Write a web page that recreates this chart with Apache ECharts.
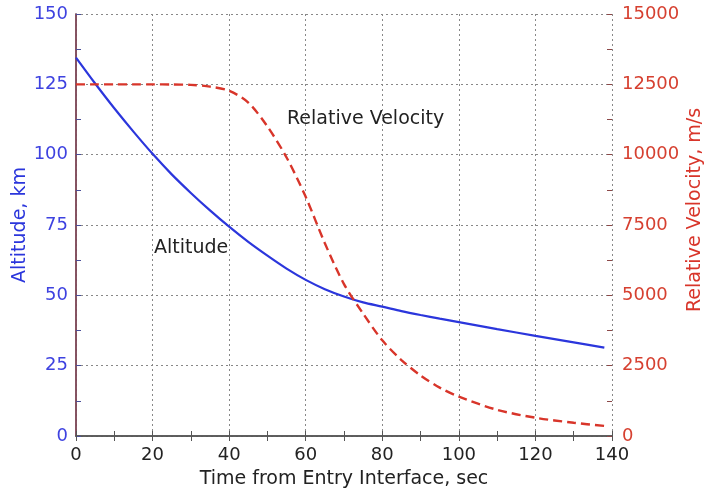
<!DOCTYPE html>
<html>
<head>
<meta charset="utf-8">
<script src="https://cdn.jsdelivr.net/npm/echarts@6/dist/echarts.min.js"></script>
<style>
    html, body { margin: 0; padding: 0; background: #fff; }
    #main { width: 706px; height: 492px; }
</style>
</head>
<body>
<div id="main"></div>
<script>
// time, sec
var time = [0, 5, 10, 15, 20, 25, 30, 35, 40, 45, 50, 55, 60, 65, 70, 75, 80, 85, 90, 95, 100, 110, 120, 130, 138];
// altitude, km
var altitude = [134.5, 125.3, 116.5, 108.2, 100.3, 93.0, 86.4, 80.2, 74.4, 69.0, 64.1, 59.5, 55.5, 52.2, 49.6, 47.5, 46.0, 44.4, 43.0, 41.7, 40.5, 38.0, 35.6, 33.3, 31.4];
// relative velocity, m/s
var velocity = [12500, 12500, 12500, 12500, 12500, 12495, 12480, 12420, 12270, 11850, 11000, 9900, 8500, 6850, 5400, 4350, 3400, 2700, 2150, 1720, 1400, 930, 650, 470, 360];

var xTicks = [0, 20, 40, 60, 80, 100, 120, 140];
var altTicks = [0, 25, 50, 75, 100, 125, 150];
var velTicks = [0, 2500, 5000, 7500, 10000, 12500, 15000];

var font = '"DejaVu Sans", Verdana, sans-serif';
var blue = '#2b36dc';
var red = '#d8352a';
var dark = '#555';

function pairs(ys) {
    var out = [];
    for (var i = 0; i < time.length; i++) {
        out.push([time[i], ys[i]]);
    }
    return out;
}

function plain(v) {
    return String(v);
}

// axis that only draws short inward ticks (the minor + major tick marks)
function tickAxis(pos, min, max, step, color, withLine) {
    return {
        type: 'value',
        position: pos,
        min: min,
        max: max,
        interval: step,
        axisLine: { show: !!withLine, lineStyle: { color: color, width: 1.5 } },
        axisTick: { show: true, inside: true, length: 5, lineStyle: { color: color, width: 1 } },
        axisLabel: { show: false },
        splitLine: { show: false }
    };
}

var chart = echarts.init(document.getElementById('main'));

var option = {
    animation: false,
    grid: { left: 76, right: 94, top: 14, bottom: 56, outerBoundsMode: 'none' },
    xAxis: [
        {
            type: 'value',
            min: xTicks[0],
            max: xTicks[xTicks.length - 1],
            interval: 20,
            name: 'Time from Entry Interface, sec',
            nameLocation: 'middle',
            nameGap: 34,
            nameMoveOverlap: false,
            nameTextStyle: { fontFamily: font, fontSize: 19, color: '#222' },
            axisLine: { lineStyle: { color: dark, width: 1.5 } },
            axisTick: { show: false },
            axisLabel: { fontFamily: font, fontSize: 18, color: '#222', margin: 10, formatter: plain },
            splitLine: { show: true, lineStyle: { color: '#888', type: [2, 3], width: 1 } }
        },
        tickAxis('bottom', 0, 140, 10, dark, false),
        tickAxis('top', 0, 140, 10, dark, true)
    ],
    yAxis: [
        {
            type: 'value',
            position: 'left',
            min: altTicks[0],
            max: altTicks[altTicks.length - 1],
            interval: 25,
            name: 'Altitude, km',
            nameLocation: 'middle',
            nameGap: 46,
            nameMoveOverlap: false,
            nameTextStyle: { fontFamily: font, fontSize: 19, color: blue },
            axisLine: { show: true, lineStyle: { color: '#4a4f9a', width: 1.5 } },
            axisTick: { show: false },
            axisLabel: { fontFamily: font, fontSize: 18, color: '#3e42e0', margin: 8, formatter: plain },
            splitLine: { show: true, lineStyle: { color: '#888', type: [2, 3], width: 1 } }
        },
        {
            type: 'value',
            position: 'right',
            min: velTicks[0],
            max: velTicks[velTicks.length - 1],
            interval: 2500,
            name: 'Relative Velocity, m/s',
            nameLocation: 'middle',
            nameGap: 74,
            nameRotate: 90,
            nameMoveOverlap: false,
            nameTextStyle: { fontFamily: font, fontSize: 19, color: red, padding: [0, 0, 0, 30] },
            axisLine: { show: true, lineStyle: { color: '#8c4848', width: 1.5 } },
            axisTick: { show: false },
            axisLabel: { fontFamily: font, fontSize: 18, color: '#d64030', margin: 10, formatter: plain },
            splitLine: { show: false }
        },
        tickAxis('left', 0, 150, 12.5, '#4a4f9a', false),
        tickAxis('right', 0, 15000, 1250, '#8c4848', false)
    ],
    graphic: [
        {
            type: 'text',
            left: 287,
            top: 110,
            style: { text: 'Relative Velocity', font: '19px ' + font, fill: '#222' }
        },
        {
            type: 'text',
            left: 154,
            top: 239,
            style: { text: 'Altitude', font: '19px ' + font, fill: '#222' }
        }
    ],
    series: [
        {
            name: 'Altitude',
            type: 'line',
            xAxisIndex: 0,
            yAxisIndex: 0,
            data: pairs(altitude),
            smooth: 0.3,
            showSymbol: false,
            lineStyle: { color: blue, width: 2.2 }
        },
        {
            name: 'Relative Velocity',
            type: 'line',
            xAxisIndex: 0,
            yAxisIndex: 1,
            data: pairs(velocity),
            smooth: 0.3,
            showSymbol: false,
            lineStyle: { color: red, width: 2.4, type: [9, 5] }
        }
    ]
};

chart.setOption(option);
</script>
</body>
</html>
